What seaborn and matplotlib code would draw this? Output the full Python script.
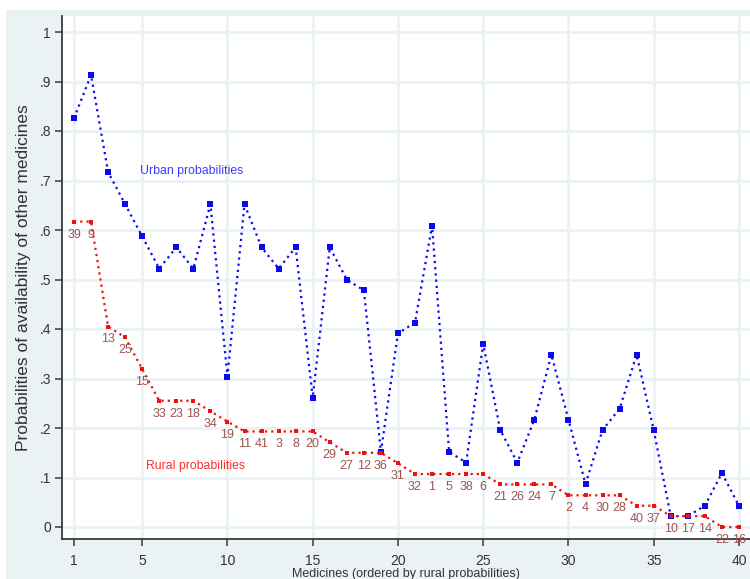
import matplotlib
matplotlib.use("Agg")
import matplotlib.pyplot as plt
import seaborn as sns
import pandas as pd
from matplotlib.patches import Rectangle

# ---- data ----
rank = list(range(1, 41))
urban = [0.826, 0.913, 0.717, 0.652, 0.587, 0.522, 0.565, 0.522, 0.652, 0.304,
         0.652, 0.565, 0.522, 0.565, 0.261, 0.565, 0.500, 0.478, 0.152, 0.391,
         0.413, 0.609, 0.152, 0.130, 0.370, 0.196, 0.130, 0.217, 0.348, 0.217,
         0.087, 0.196, 0.239, 0.348, 0.196, 0.022, 0.022, 0.043, 0.109, 0.043]
rural = [0.617, 0.617, 0.405, 0.383, 0.319, 0.255, 0.255, 0.255, 0.234, 0.213,
         0.193, 0.193, 0.193, 0.193, 0.193, 0.171, 0.150, 0.150, 0.150, 0.129,
         0.107, 0.107, 0.107, 0.107, 0.107, 0.086, 0.086, 0.086, 0.086, 0.064,
         0.064, 0.064, 0.064, 0.043, 0.043, 0.022, 0.022, 0.022, 0.000, 0.000]
med_ids = ["39", "9", "13", "25", "15", "33", "23", "18", "34", "19",
           "11", "41", "3", "8", "20", "29", "27", "12", "36", "31",
           "32", "1", "5", "38", "6", "21", "26", "24", "7", "2",
           "4", "30", "28", "40", "37", "10", "17", "14", "22", "16"]
xticks = [1, 5, 10, 15, 20, 25, 30, 35, 40]
yticks = [0, 0.1, 0.2, 0.3, 0.4, 0.5, 0.6, 0.7, 0.8, 0.9, 1.0]
ytick_labels = ["0", ".1", ".2", ".3", ".4", ".5", ".6", ".7", ".8", ".9", "1"]

df = pd.DataFrame({"rank": rank, "urban": urban, "rural": rural, "id": med_ids})

# ---- style ----
sns.set_theme(style="white")
plt.rcParams["font.family"] = ["Liberation Sans", "DejaVu Sans"]

BG = "#eaf2f3"
fig = plt.figure(figsize=(7.5, 5.79), dpi=100)
fig.patch.set_facecolor("white")
fig.patches.append(Rectangle((6 / 750, 0), 1, (579 - 10) / 579, transform=fig.transFigure,
                             facecolor=BG, edgecolor="none", zorder=-10))
ax = fig.add_axes([62 / 750, 1 - 539 / 579, 1 - 62 / 750, (539 - 16) / 579])
ax.set_facecolor("white")

sns.lineplot(data=df, x="rank", y="urban", ax=ax, color="#0a0af0", marker="s",
             markersize=3.8, markeredgewidth=0, linestyle=(0, (1, 1.8)), linewidth=1.6,
             zorder=3)
sns.lineplot(data=df, x="rank", y="rural", ax=ax, color="#f01010", marker="s",
             markersize=3.5, markeredgewidth=0, linestyle=(0, (1, 1.8)), linewidth=1.6,
             zorder=3)

for xv, yv, lab in zip(df["rank"], df["rural"], df["id"]):
    ax.annotate(lab, (xv, yv), xytext=(0, -5), textcoords="offset points",
                ha="center", va="top", fontsize=9, color="#9e5350",
                annotation_clip=False, zorder=4)

ax.text(4.9, 0.719, "Urban probabilities", color="#3a3aff", fontsize=8.8,
        ha="left", va="center")
ax.text(5.2, 0.123, "Rural probabilities", color="#ff2a2a", fontsize=8.8,
        ha="left", va="center")

ax.set_xlim(1 + (62 - 74) / 17.05, 1 + (750 - 74) / 17.05)
ax.set_ylim(-12 / 495, (527 - 16) / 495)
ax.set_xticks(xticks)
ax.set_xticklabels([str(t) for t in xticks])
ax.set_yticks(yticks)
ax.set_yticklabels(ytick_labels)
ax.grid(True, color=BG, linewidth=2)
ax.set_axisbelow(True)

for s in ["top", "right"]:
    ax.spines[s].set_visible(False)
for s in ["left", "bottom"]:
    ax.spines[s].set_color("#3a3a3a")
    ax.spines[s].set_linewidth(1.3)

ax.tick_params(axis="both", which="both", direction="out", length=5, width=1.1,
               color="#3a3a3a", labelsize=10, labelcolor="#333333",
               bottom=True, left=True)
ax.tick_params(axis="x", pad=5.5)
ax.tick_params(axis="y", pad=3)
ax.set_xlabel("Medicines (ordered by rural probabilities)", fontsize=9,
              color="#333333", labelpad=0.5)
ax.set_ylabel("Probabilities of availability of other medicines", fontsize=12.5,
              color="#333333", labelpad=6)

fig.savefig("out.png", dpi=100, facecolor=fig.get_facecolor())
